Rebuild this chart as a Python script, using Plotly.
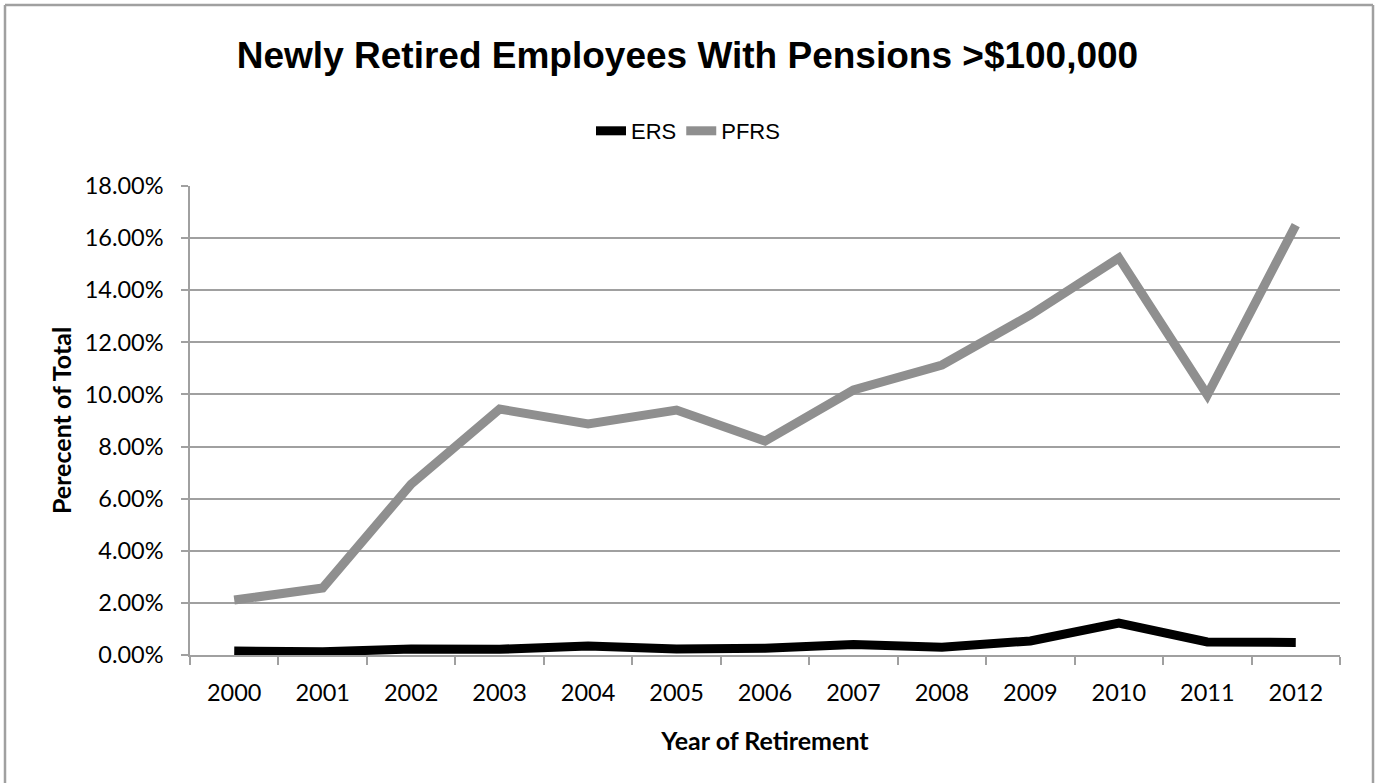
import plotly.graph_objects as go

years = ["2000", "2001", "2002", "2003", "2004", "2005", "2006",
         "2007", "2008", "2009", "2010", "2011", "2012"]
ers = [0.0015, 0.0012, 0.0023, 0.0022, 0.0035, 0.0023, 0.0026,
       0.0040, 0.0030, 0.0054, 0.0122, 0.0050, 0.0048]
pfrs = [0.0211, 0.0257, 0.0656, 0.0944, 0.0887, 0.0940, 0.0821,
        0.1017, 0.1113, 0.1305, 0.1524, 0.0998, 0.1650]
y_ticks = [0, 0.02, 0.04, 0.06, 0.08, 0.10, 0.12, 0.14, 0.16, 0.18]

W, H = 1375, 783
L, R, T, B = 190, 35, 186, 128
pw, ph = W - L - R, H - T - B

def px(x):
    return (x - L) / pw

def py(y):
    return (H - B - y) / ph

fig = go.Figure()
fig.add_trace(go.Scatter(x=years, y=ers, mode="lines", name="ERS",
                         line=dict(color="#000000", width=9)))
fig.add_trace(go.Scatter(x=years, y=pfrs, mode="lines", name="PFRS",
                         line=dict(color="#8f8f8f", width=9)))

tick_font = dict(family="Lato, Open Sans, sans-serif", size=23.5, color="#000000")
title_font = dict(family="Lato, Open Sans, sans-serif", size=25, color="#000000")

fig.update_layout(
    width=W, height=H,
    margin=dict(l=L, r=R, t=T, b=B, autoexpand=False),
    paper_bgcolor="white", plot_bgcolor="white",
    title=dict(text="<b>Newly Retired Employees With Pensions >$100,000</b>",
               x=0.5, xref="container", xanchor="center",
               y=1 - 55 / H, yref="container", yanchor="middle",
               font=dict(family="Liberation Sans, Arial, sans-serif", size=37, color="#000000")),
    legend=dict(orientation="h", x=688 / W, xref="container", xanchor="center",
                y=1 - 131 / H, yref="container", yanchor="middle",
                font=dict(family="Liberation Sans, Arial, sans-serif", size=22, color="#000000"),
                itemwidth=30, tracegroupgap=0, bgcolor="rgba(0,0,0,0)"),
    xaxis=dict(type="category", range=[-0.5, len(years) - 0.5],
               showgrid=False, showline=True, linecolor="#a0a0a0",
               linewidth=1.5, ticks="outside", tickson="boundaries", ticklen=8,
               tickcolor="#a0a0a0", tickwidth=1.5, tickfont=tick_font,
               ticklabelstandoff=16, fixedrange=True,
               title=dict(text="<b>Year of Retirement</b>", font=title_font, standoff=28)),
    yaxis=dict(range=[0, 0.18], tickvals=y_ticks, tickformat=".2%",
               showgrid=True, gridcolor="#a0a0a0", gridwidth=1.5,
               showline=True, linecolor="#a0a0a0", linewidth=1.5,
               ticks="outside", ticklen=7, tickcolor="#a0a0a0", tickwidth=1.5,
               tickfont=tick_font, ticklabelstandoff=13, zeroline=False, fixedrange=True,
               title=dict(text="<b>Perecent of Total</b>", font=title_font, standoff=6)),
    shapes=[
        dict(type="line", xref="paper", yref="paper", x0=px(5), x1=px(5), y0=py(5), y1=py(H + 5),
             line=dict(color="#a0a0a0", width=2.5)),
        dict(type="line", xref="paper", yref="paper", x0=px(5), x1=px(1373), y0=py(5), y1=py(5),
             line=dict(color="#a0a0a0", width=2.5)),
        dict(type="line", xref="paper", yref="paper", x0=px(1373), x1=px(1373), y0=py(5), y1=py(H + 5),
             line=dict(color="#a0a0a0", width=2.5)),
    ],
)

fig.write_html("out.html", config={"displayModeBar": False},
               post_script="document.body.style.margin='0';")
